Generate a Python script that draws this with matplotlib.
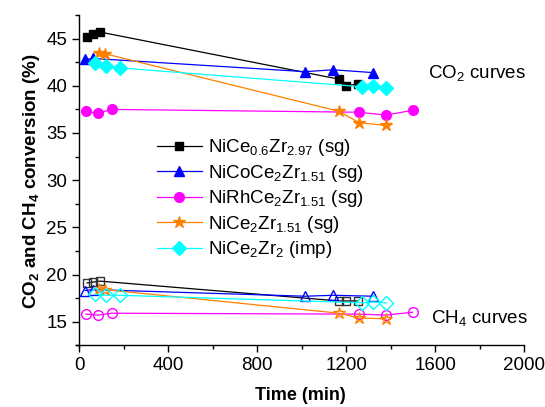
import numpy as np
import matplotlib.pyplot as plt
from matplotlib.ticker import MultipleLocator

plt.rcParams['font.family'] = ['Liberation Sans', 'DejaVu Sans']
plt.rcParams['mathtext.fontset'] = 'custom'
plt.rcParams['mathtext.rm'] = 'Liberation Sans'
plt.rcParams['mathtext.bf'] = 'Liberation Sans:bold'

# time (min), CO2 conversion (%), CH4 conversion (%)
t_sg06 = [36, 62, 94, 1168, 1199, 1253]
co2_sg06 = [45.2, 45.5, 45.7, 40.7, 40.0, 40.2]
ch4_sg06 = [19.1, 19.2, 19.3, 17.2, 17.2, 17.2]

t_co = [27, 62, 1016, 1141, 1320]
co2_co = [42.8, 42.9, 41.5, 41.7, 41.4]
ch4_co = [18.3, 18.4, 17.7, 17.8, 17.7]

t_rh = [31, 85, 147, 1257, 1378, 1498]
co2_rh = [37.3, 37.1, 37.5, 37.2, 36.9, 37.4]
ch4_rh = [15.8, 15.7, 15.9, 15.8, 15.7, 16.0]

t_sg = [89, 116, 1168, 1257, 1378]
co2_sg = [43.5, 43.4, 37.3, 36.1, 35.8]
ch4_sg = [18.5, 18.4, 15.9, 15.4, 15.3]

t_imp = [71, 120, 183, 1271, 1320, 1378]
co2_imp = [42.4, 42.1, 41.9, 39.9, 40.0, 39.8]
ch4_imp = [17.9, 17.8, 17.8, 17.0, 17.1, 17.0]

labels = [r'NiCe$_{0.6}$Zr$_{2.97}$ (sg)', r'NiCoCe$_2$Zr$_{1.51}$ (sg)',
          r'NiRhCe$_2$Zr$_{1.51}$ (sg)', r'NiCe$_2$Zr$_{1.51}$ (sg)',
          r'NiCe$_2$Zr$_2$ (imp)']
colors = ['black', '#0000ff', '#ff00ff', '#ff8000', '#00ffff']
markers = ['s', '^', 'o', '*', 'D']
msizes = [6, 7.5, 7, 9, 7]

series = [(t_sg06, co2_sg06, ch4_sg06), (t_co, co2_co, ch4_co),
          (t_rh, co2_rh, ch4_rh), (t_sg, co2_sg, ch4_sg),
          (t_imp, co2_imp, ch4_imp)]

fig = plt.figure(figsize=(5.45, 4.07), dpi=100)
ax = fig.add_axes([0.139, 0.147, 0.823, 0.816])

handles = []
for (t, co2, ch4), lab, c, m, ms in zip(series, labels, colors, markers, msizes):
    h, = ax.plot(t, co2, color=c, marker=m, markersize=ms, lw=0.9,
                 markeredgecolor=c, label=lab)
    ax.plot(t, ch4, color=c, marker=m, markersize=ms, lw=0.9,
            markerfacecolor='none', markeredgecolor=c if c != 'black' else '#333333',
            markeredgewidth=1.0)
    handles.append(h)

ax.set_xlim(-15, 2000)
ax.set_ylim(12.3, 47.5)
ax.spines['left'].set_position(('data', 0))
ax.spines['bottom'].set_position(('data', 12.5))
ax.spines['top'].set_visible(False)
ax.spines['right'].set_visible(False)
ax.spines['left'].set_bounds(12.3, 47.5)
ax.spines['bottom'].set_bounds(-15, 2000)

ax.xaxis.set_major_locator(MultipleLocator(400))
ax.xaxis.set_minor_locator(MultipleLocator(200))
ax.yaxis.set_major_locator(MultipleLocator(5))
ax.yaxis.set_minor_locator(MultipleLocator(2.5))
ax.set_yticks(np.arange(15, 50, 5))
ax.tick_params(which='major', length=5, width=1, labelsize=13.5)
ax.tick_params(which='minor', length=3, width=1)
for s in ax.spines.values():
    s.set_linewidth(1)

ax.set_xlabel('Time (min)', fontsize=13, fontweight='bold', labelpad=9)
ax.set_ylabel(r'$\mathbf{CO_2}$ and $\mathbf{CH_4}$ conversion (%)', fontsize=13.5,
              fontweight='bold', labelpad=3)

ax.legend(handles=handles, loc='upper left', bbox_to_anchor=(0.181, 0.632),
          frameon=False, fontsize=13.5, handlelength=2.4, handletextpad=0.3,
          labelspacing=0.24, borderaxespad=0, borderpad=0)

ax.text(1568, 41.3, r'CO$_2$ curves', fontsize=13.5, va='center', ha='left')
ax.text(1582, 15.3, r'CH$_4$ curves', fontsize=13.5, va='center', ha='left')

fig.savefig('out.png', dpi=100)
